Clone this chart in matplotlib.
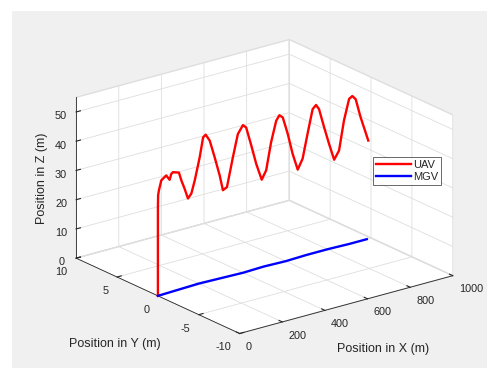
import matplotlib
matplotlib.use("Agg")
import matplotlib.pyplot as plt
from matplotlib.patches import Rectangle

plt.rcParams['font.family'] = ['Liberation Sans', 'DejaVu Sans']
plt.rcParams['axes.unicode_minus'] = False

# UAV trajectory samples (x, y, z in metres)
uav_x = [0, 0, 1, 4.7, 16, 39, 55, 63, 70.6, 98.6, 110, 125, 141, 157, 173, 196,
         212, 224, 243, 266, 290, 305, 324, 352, 375, 399, 414, 438, 461, 487,
         508, 531, 555, 570, 586, 609, 632, 656, 679, 702, 726, 742, 756, 780,
         803, 827, 850, 873, 897, 912, 928, 951, 987]
uav_y = [0.0] * len(uav_x)
uav_z = [0, 30.4, 34.4, 36.0, 39.2, 40.4, 38.6, 40.5, 40.9, 40.2, 37.3, 34.2,
         30.5, 31.9, 36.1, 43.5, 50.0, 50.7, 48.3, 42.2, 35.4, 30.1, 30.8, 40.5,
         47.9, 50.5, 49.4, 42.8, 36.1, 30.1, 32.9, 42.0, 48.9, 50.5, 49.4, 43.4,
         36.1, 30.2, 33.5, 41.5, 49.5, 50.6, 48.9, 42.2, 36.1, 30.2, 32.9, 42.7,
         49.6, 50.3, 48.9, 42.3, 33.6]

# MGV ground track
mgv_x = [0, 100, 200, 300, 400, 500, 600, 700, 800, 900, 980]
mgv_y = [0.0, 0.1, 0.2, 0.1, 0.0, 0.1, 0.0, 0.1, 0.1, 0.0, 0.0]
mgv_z = [0.0] * len(mgv_x)

x_ticks = [0, 200, 400, 600, 800, 1000]
y_ticks = [-10, -5, 0, 5, 10]
z_ticks = [0, 10, 20, 30, 40, 50]

W, H = 487, 368
fig = plt.figure(figsize=(W / 100, H / 100), dpi=100)
fig.patch.set_facecolor('white')
fig.patches.append(Rectangle((12 / W, 0), 1 - 12 / W, 1 - 11 / H,
                             transform=fig.transFigure, facecolor='#f0f0f0',
                             edgecolor='none', zorder=-10))

ax = fig.add_axes([16 / W, -7.5 / H, 1.0, 1.0], projection='3d', proj_type='ortho')
ax.set_facecolor('none')
ax.view_init(elev=20.7, azim=-127.5)
ax.set_box_aspect((1, 1, 0.64), zoom=1.10)

ax.plot(uav_x, uav_y, uav_z, color='#ff0000', lw=1.7, label='UAV')
ax.plot(mgv_x, mgv_y, mgv_z, color='#0000ff', lw=1.7, label='MGV')

ax.set_xlim(0, 1000)
ax.set_ylim(-10, 10)
ax.set_zlim(0, 55)
ax.set_xticks(x_ticks)
ax.set_yticks(y_ticks)
ax.set_zticks(z_ticks)

txt = (0.15, 0.15, 0.15)
grid = (0.87, 0.87, 0.87)
for axis in (ax.xaxis, ax.yaxis, ax.zaxis):
    axis.set_pane_color((1, 1, 1, 1))
    axis.pane.set_edgecolor(grid)
    axis._axinfo['grid'].update(color=grid, linewidth=0.6)
    axis._axinfo['axisline']['color'] = txt
    axis._axinfo['tick'].update(inward_factor=0.0, outward_factor=0.25)
    axis.line.set_color(txt)
    axis.line.set_linewidth(0.6)
ax.tick_params(labelsize=7.8, colors=txt)
ax.tick_params(axis='x', pad=-3)
ax.tick_params(axis='y', pad=-2.4)
ax.tick_params(axis='z', pad=-2.5)
for lbl in ax.get_xticklabels():
    lbl.set_horizontalalignment('left')
for lbl in ax.get_yticklabels():
    lbl.set_horizontalalignment('right')

fig.text(0.786, 0.052, 'Position in X (m)', fontsize=9, color=txt, ha='center', va='center')
fig.text(0.236, 0.065, 'Position in Y (m)', fontsize=9, color=txt, ha='center', va='center')
fig.text(0.086, 0.516, 'Position in Z (m)', fontsize=9, color=txt, ha='center', va='center',
         rotation=90)

leg = ax.legend(loc='upper left', bbox_to_anchor=(373 / W, 1 - 157 / H),
                bbox_transform=fig.transFigure, borderaxespad=0, fontsize=8,
                frameon=True, fancybox=False, handlelength=3.1, handletextpad=0.2,
                borderpad=0.3, labelspacing=0.15)
leg.get_frame().set_edgecolor(txt)
leg.get_frame().set_linewidth(0.6)
for t in leg.get_texts():
    t.set_color(txt)

fig.savefig('out.png', dpi=100)
